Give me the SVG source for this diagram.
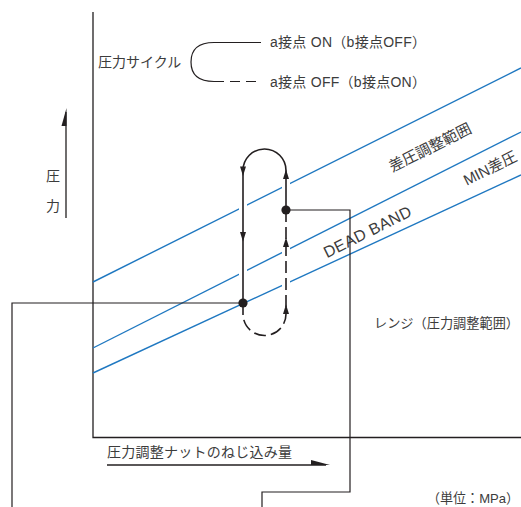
<svg xmlns="http://www.w3.org/2000/svg" width="521" height="507" viewBox="0 0 521 507">
<style>
.ln{fill:none;stroke:#231f20;stroke-width:1.2}
.ax{fill:none;stroke:#231f20;stroke-width:1.3}
.bl{fill:none;stroke:#1f78c1;stroke-width:1.4}
.lp{fill:none;stroke:#231f20;stroke-width:1.6}
.ds{stroke-dasharray:12 5}
.wh{fill:none;stroke:#fff;stroke-width:8}
.ah{fill:#231f20}
.t{font-family:"Liberation Sans","Noto Sans CJK JP",sans-serif;font-size:14px;fill:#3c3c3c}
.r{font-size:15px}
.s{font-size:13.5px}
</style>
<rect width="521" height="507" fill="#fff"/>
<g id="axes">
<path class="ax" d="M93,12 V437.5 H521"/>
<path class="ax" d="M66,218 V112"/>
<polygon class="ah" points="61.5,126 66.5,108 66.5,126"/>
<text class="t" x="46" y="180.5">圧</text>
<text class="t" x="46" y="210.5">力</text>
<path class="ax" d="M107,465 H326"/>
<polygon class="ah" points="311,460 330,465 311,465"/>
<text class="t" x="107" y="457" textLength="185" lengthAdjust="spacing">圧力調整ナットのねじ込み量</text>
<text class="t s" x="427" y="502.5" textLength="92" lengthAdjust="spacingAndGlyphs">（単位：MPa）</text>
</g>
<g id="legend">
<text class="t" x="98" y="67">圧力サイクル</text>
<path class="ln" d="M214,42.5 Q191,42.5 191,62 Q191,81.5 214,81.5"/>
<path class="ln" d="M213,42.5 H261"/>
<path class="ln" d="M214,81.5 H261" stroke-dasharray="10 6"/>
<text class="t" x="270" y="47" textLength="156" lengthAdjust="spacing">a接点 ON（b接点OFF）</text>
<text class="t" x="270" y="87" textLength="156" lengthAdjust="spacing">a接点 OFF（b接点ON）</text>
</g>
<g id="bands">
<path class="bl" d="M93,282 L521,68"/>
<path class="bl" d="M93,348 L521,132"/>
<path class="bl" d="M93,373 L521,175"/>
<text class="t r" x="432.4" y="152.2" text-anchor="middle" transform="rotate(-26.57 432.4 152.2)">差圧調整範囲</text>
<text class="t" x="369.9" y="236.8" text-anchor="middle" textLength="96" lengthAdjust="spacing" transform="rotate(-26.57 369.9 236.8)" style="font-size:16px">DEAD BAND</text>
<text class="t r" x="492.4" y="173" text-anchor="middle" transform="rotate(-26.57 492.4 173)">MIN差圧</text>
</g>
<g id="range">
<path class="ln" d="M286,210 H350 V492 H262 V507"/>
<path class="ln" d="M243,303 H12 V507"/>
<text class="t" x="374" y="328" style="font-size:13.2px">レンジ（圧力調整範囲）</text>
</g>
<g id="cycle">
<path class="wh" d="M243,172 V299"/>
<path class="wh" d="M286,172 V330"/>
<path class="lp" d="M243,303 V170.5 A21.5,21.5 0 0 1 286,170.5 V210"/>
<path class="lp ds" d="M243,303 V314 A21.5,21.5 0 0 0 286,314 V210"/>
<polygon class="ah" points="240,166.5 246,166.5 243,176"/>
<polygon class="ah" points="240,232 246,232 243,241.5"/>
<polygon class="ah" points="283,179 289,179 286,169.5"/>
<polygon class="ah" points="283,247 289,247 286,237.5"/>
<polygon class="ah" points="283,314 289,314 286,304.5"/>
<circle class="ah" cx="243" cy="303" r="4.6"/>
<circle class="ah" cx="286" cy="210" r="4.6"/>
</g>
</svg>
